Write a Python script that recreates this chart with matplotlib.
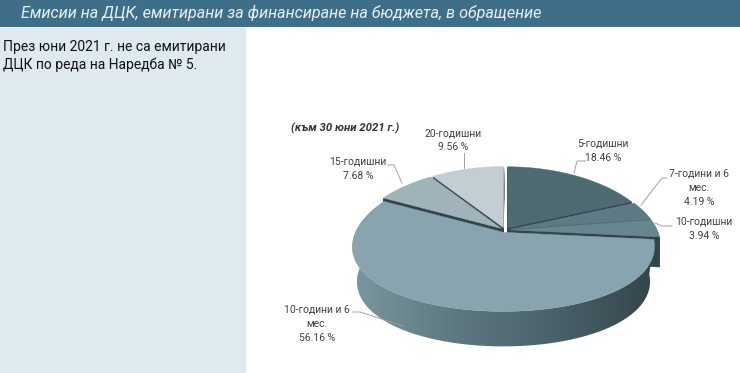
import numpy as np
import matplotlib
matplotlib.use("Agg")
from matplotlib import pyplot as plt
from matplotlib.colors import LinearSegmentedColormap
from matplotlib.patches import Polygon, Rectangle

plt.rcParams['font.family'] = ['Roboto', 'Noto Sans', 'DejaVu Sans']

TITLE = "Емисии на ДЦК, емитирани за финансиране на бюджета, в обращение"
NOTE = ["През юни 2021 г. не са емитирани", "ДЦК по реда на Наредба № 5."]
SUBTITLE = "(към 30 юни 2021 г.)"

names = ["5-годишни", "7-години и 6\nмес.", "10-годишни", "10-години и 6\nмес.", "15-годишни", "20-годишни"]
shares = [18.46, 4.19, 3.94, 56.16, 7.68, 9.56]
colors = ["#4e6a73", "#5c7b85", "#67868f", "#88a4af", "#a0b3bb", "#c3ced4"]

# label centre and leader line for each slice
label_pos = [(603, 151), (699, 188), (704, 229), (317, 324), (358, 169), (453, 140)]
leaders = [
    [(574, 173), (577, 161), (586, 161)],
    [(641, 205), (662, 178), (667, 178)],
    [(655, 223), (662, 226), (672, 226)],
    [(353, 312), (360, 312), (403, 326)],
    [(388, 165), (394, 165), (402, 183)],
    [(464, 153), (464, 168)],
]

CX, CY = 505, 230
R, RY = 147, 69
PERSP_X, PERSP_Y = 0.2, 0.12
EXPLODE = 0.035
DEPTH = 35
MAIN = 3


def project(u, v):
    # tilted disc with some perspective, back edge is squeezed
    return CX + R * u / (1 + PERSP_X * v), CY - RY * v / (1 + PERSP_Y * v)


def slice_outline(start, end):
    '''Outline of one exploded slice, angles in degrees clockwise from 12 o'clock'''
    mid = np.radians((start + end) / 2)
    du, dv = EXPLODE * np.sin(mid), EXPLODE * np.cos(mid)
    t = np.radians(np.linspace(start, end, 80))
    u = np.r_[0, np.sin(t)] + du
    v = np.r_[0, np.cos(t)] + dv
    x, y = project(u, v)
    return np.column_stack([x, y])


fig = plt.figure(figsize=(7.4, 3.73), dpi=100)
ax = fig.add_axes([0, 0, 1, 1])
ax.axis('off')

ax.add_patch(Rectangle((0, 0), 740, 27, fc="#3f6f88", ec="none", zorder=1))
ax.add_patch(Rectangle((0, 28), 246, 345, fc="#deeaf0", ec="none", zorder=1))
ax.text(21, 13, TITLE, color="#e8f0f4", fontsize=11.6, style='italic', va='center', zorder=5)
ax.text(3, 47, NOTE[0], color="#111111", fontsize=10, va='center', zorder=5)
ax.text(3, 65, NOTE[1], color="#111111", fontsize=10, va='center', zorder=5)
ax.text(345, 128, SUBTITLE, color="#333333", fontsize=8.2, style='italic', weight='bold', ha='center', va='center', zorder=5)

edges = np.r_[0, np.cumsum(shares)] / sum(shares) * 360
outlines = [slice_outline(edges[i], edges[i + 1]) for i in range(len(shares))]

# solid dark body under the smaller slices, shows through the gaps
for i, pts in enumerate(outlines):
    if i == MAIN:
        continue
    for shift in np.arange(1, DEPTH - 4):
        ax.add_patch(Polygon(pts + [0, shift], fc="#33444a", ec="#33444a", lw=0.5, zorder=2))

# side wall of the big slice with a left to right gradient, bottom arc a bit narrower
arc = outlines[MAIN][1:]
bottom = np.column_stack([CX + (arc[:, 0] - CX) * 0.97, arc[:, 1] + DEPTH])
wall = Polygon(np.vstack([arc, bottom[::-1]]), fc="none", ec="none", transform=ax.transData)
ax.add_patch(wall)
wall_cmap = LinearSegmentedColormap.from_list("wall", ["#7d97a1", "#5f7982", "#4a6169", "#33444a"])
img = ax.imshow(np.linspace(0, 1, 256)[None, :], cmap=wall_cmap, extent=(350, 658, 350, 190), aspect='auto', zorder=3)
img.set_clip_path(wall)

for i, pts in enumerate(outlines):
    ax.add_patch(Polygon(pts, fc=colors[i], ec=colors[i], lw=0.3, zorder=4))

for name, share, pos in zip(names, shares, label_pos):
    ax.text(pos[0], pos[1], f"{name}\n{share:.2f} %", color="#404040", fontsize=7.5,
            ha='center', va='center', linespacing=1.5, zorder=5)

for line in leaders:
    xs, ys = zip(*line)
    ax.plot(xs, ys, color="#a0a0a0", lw=0.7, zorder=5)

ax.set_xlim(0, 740)
ax.set_ylim(373, 0)
fig.savefig("out.png", dpi=100)
